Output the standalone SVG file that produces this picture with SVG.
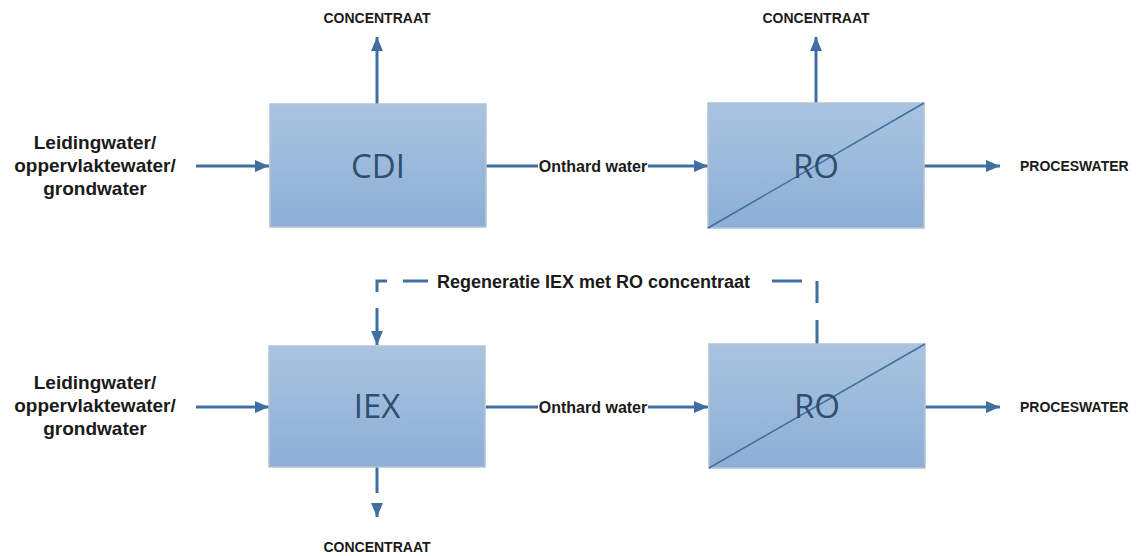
<svg xmlns="http://www.w3.org/2000/svg" width="1143" height="556" viewBox="0 0 1143 556">
  <defs>
    <linearGradient id="boxFill" x1="0" y1="0" x2="0" y2="1">
      <stop offset="0" stop-color="#a9c4e0"/>
      <stop offset="1" stop-color="#8cafd6"/>
    </linearGradient>
    <marker id="arrow" viewBox="0 0 14 12" refX="14" refY="6" markerWidth="14" markerHeight="12" markerUnits="userSpaceOnUse" orient="auto">
      <path d="M0,0 L14,6 L0,12 Z" fill="#3f6f9f"/>
    </marker>
    <style>
      .box { fill: url(#boxFill); stroke: #b3c3d4; stroke-width: 1.5; }
      .diag { stroke: #3f6f9f; stroke-width: 1.5; fill: none; }
      .boxlabel { font-family: "Open Sans", "Liberation Sans", sans-serif; font-size: 33px; fill: #2f4e70; text-anchor: middle; }
      .flow { stroke: #3f6f9f; stroke-width: 3; fill: none; }
      .lbl { font-family: "Liberation Sans", Arial, sans-serif; font-weight: bold; fill: #1a1a1a; }
      .small { font-size: 14px; }
      .src { font-size: 19px; text-anchor: middle; }
      .mid { font-size: 16px; text-anchor: middle; }
      .regen { font-size: 18px; }
    </style>
  </defs>
  <rect width="1143" height="556" fill="#ffffff"/>

  <!-- connectors -->
  <g id="connectors">
    <!-- top row -->
    <path class="flow" d="M196,166 H269" marker-end="url(#arrow)"/>
    <path class="flow" d="M377,104 V37" marker-end="url(#arrow)"/>
    <path class="flow" d="M486,166 H538"/>
    <path class="flow" d="M648,166 H708" marker-end="url(#arrow)"/>
    <path class="flow" d="M816,103 V37" marker-end="url(#arrow)"/>
    <path class="flow" d="M924,166 H1000" marker-end="url(#arrow)"/>

    <!-- bottom row -->
    <path class="flow" d="M196,407 H269" marker-end="url(#arrow)"/>
    <path class="flow" d="M486,407 H538"/>
    <path class="flow" d="M648,407 H708" marker-end="url(#arrow)"/>
    <path class="flow" d="M925,407 H1000" marker-end="url(#arrow)"/>
    <!-- IEX concentrate outlet (dashed) -->
    <path class="flow" d="M377,467 V493"/>
    <path class="flow" d="M377,503 V517" marker-end="url(#arrow)"/>

    <!-- regeneration return line (dashed) -->
    <path class="flow" d="M817,345 V320 M817,303 V281 M802,281 H772 M428,281 H403 M387,281 H377 V292"/>
    <path class="flow" d="M377,308 V345" marker-end="url(#arrow)"/>
  </g>

  <!-- nodes -->
  <g id="cdi">
    <rect class="box" x="270" y="104" width="216" height="123"/>
    <text class="boxlabel" x="378" y="178">CDI</text>
  </g>
  <g id="ro-top">
    <rect class="box" x="708" y="103" width="216" height="125"/>
    <line class="diag" x1="708" y1="228" x2="924" y2="103"/>
    <text class="boxlabel" x="816" y="178">RO</text>
  </g>
  <g id="iex">
    <rect class="box" x="269" y="346" width="216" height="121"/>
    <text class="boxlabel" x="377" y="418">IEX</text>
  </g>
  <g id="ro-bottom">
    <rect class="box" x="709" y="344" width="216" height="124"/>
    <line class="diag" x1="709" y1="468" x2="925" y2="344"/>
    <text class="boxlabel" x="817" y="418">RO</text>
  </g>

  <!-- labels -->
  <g id="labels">
    <text class="lbl small" x="377" y="23" text-anchor="middle">CONCENTRAAT</text>
    <text class="lbl small" x="816" y="23" text-anchor="middle">CONCENTRAAT</text>
    <text class="lbl small" x="377" y="552" text-anchor="middle">CONCENTRAAT</text>

    <text class="lbl src" x="95" y="149">Leidingwater/</text>
    <text class="lbl src" x="95" y="172">oppervlaktewater/</text>
    <text class="lbl src" x="95" y="195">grondwater</text>

    <text class="lbl src" x="95" y="389">Leidingwater/</text>
    <text class="lbl src" x="95" y="412">oppervlaktewater/</text>
    <text class="lbl src" x="95" y="435">grondwater</text>

    <text class="lbl mid" x="593" y="172">Onthard water</text>
    <text class="lbl mid" x="593" y="413">Onthard water</text>

    <text class="lbl small" x="1020" y="171">PROCESWATER</text>
    <text class="lbl small" x="1020" y="412">PROCESWATER</text>

    <text class="lbl regen" x="437" y="288">Regeneratie IEX met RO concentraat</text>
  </g>
</svg>
